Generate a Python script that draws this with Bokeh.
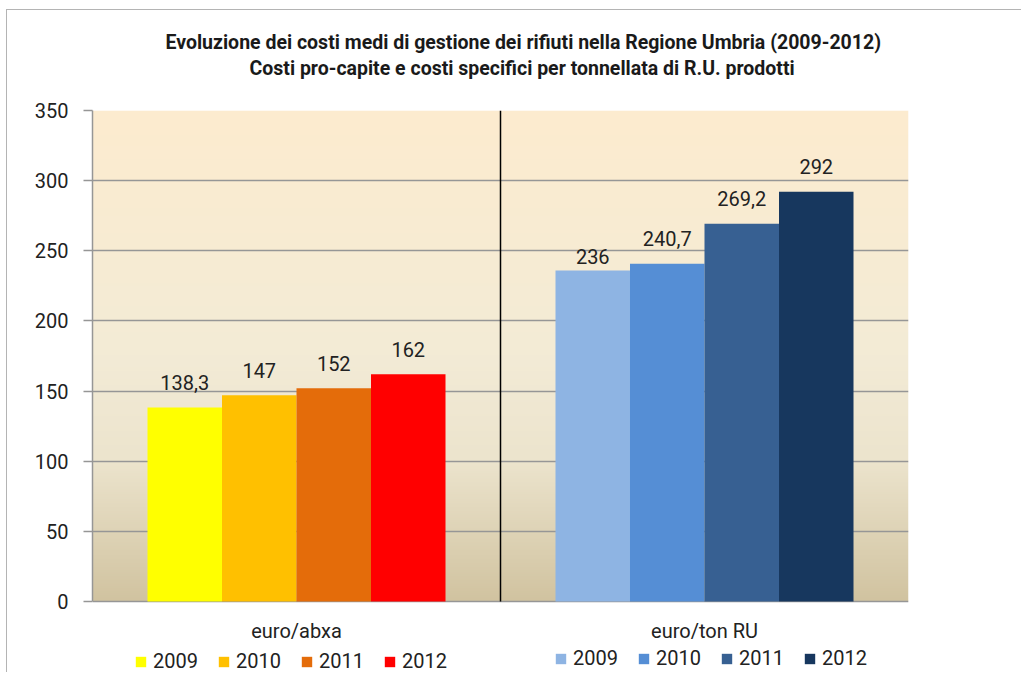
import numpy as np
from bokeh.plotting import figure
from bokeh.models import (FactorRange, Range1d, FixedTicker, Legend, LegendItem,
                          Title, ColumnDataSource)
from bokeh.transform import dodge
from bokeh.core.properties import value
from bokeh.embed import file_html
from bokeh.resources import INLINE

# ---------------- data ----------------
categories = ["euro/abxa", "euro/ton RU"]
years = ["2009", "2010", "2011", "2012"]
pro_capite = [138.3, 147, 152, 162]        # euro/abxa
per_tonnellata = [236, 240.7, 269.2, 292]  # euro/ton RU
y_ticks = [0, 50, 100, 150, 200, 250, 300, 350]

title_line1 = "Evoluzione dei costi medi di gestione dei rifiuti nella Regione Umbria (2009-2012)"
title_line2 = "Costi pro-capite  e costi specifici per tonnellata  di R.U. prodotti"

# ---------------- style / layout ----------------
warm_colors = ["#FFFF00", "#FFC000", "#E46C0A", "#FF0000"]
blue_colors = ["#8EB4E3", "#558ED5", "#376092", "#17375E"]
label_nudge = [[0, 0, 0, 0], [11, 0, 0, 0]]
FONT = value("Roboto")
TXT = "#222222"
GRID = "#969696"
bar_w = 0.1826

FIG_W, FIG_H = 1015, 663
TOP, LEFT, RIGHT = 100, 85, 114
VALUE_PX = 491          # pixel height of the 0..350 value band
frame_h = FIG_H - TOP   # frame reaches the bottom so the legend sits inside it
y_lo = -(frame_h - VALUE_PX) * y_ticks[-1] / VALUE_PX

p = figure(x_range=FactorRange(*categories, range_padding=0, factor_padding=0),
           y_range=Range1d(y_lo, y_ticks[-1]),
           width=FIG_W, height=FIG_H, output_backend="svg", toolbar_location=None,
           title_location=None, x_axis_location=None,
           min_border_left=LEFT, min_border_right=RIGHT, min_border_top=TOP, min_border_bottom=0)
p.outline_line_color = None
p.background_fill_color = "white"
p.border_fill_color = "white"
p.styles = {"border-top": "1px solid #b4b4b4", "border-left": "1px solid #b4b4b4",
            "margin-left": "6px", "margin-top": "9px"}

# gradient plot-area background (only behind the value band)
stops_y = [0, 100, 175, 350]
stops_c = [(209, 195, 160), (236, 228, 205), (243, 235, 214), (253, 236, 207)]
rows = 350
yy = np.arange(rows) + 0.5
img = np.empty((rows, 1), dtype=np.uint32)
view = img.view(dtype=np.uint8).reshape((rows, 1, 4))
for k in range(3):
    view[:, 0, k] = np.interp(yy, stops_y, [c[k] for c in stops_c]).astype(np.uint8)
view[:, 0, 3] = 255
p.image_rgba(image=[img], x=0, y=y_ticks[0], dw=len(categories),
             dh=y_ticks[-1] - y_ticks[0], level="image")

# bars + labels
legend_items = [[], []]
groups = [pro_capite, per_tonnellata]
palettes = [warm_colors, blue_colors]
for gi, cat in enumerate(categories):
    for j, yr in enumerate(years):
        v = groups[gi][j]
        lab = str(v).replace(".", ",")
        src = ColumnDataSource(dict(x=[cat], top=[v], label=[lab],
                                    yoff=[-25 + label_nudge[gi][j]]))
        off = (j - 1.5) * bar_w
        r = p.vbar(x=dodge("x", off, range=p.x_range), top="top", width=bar_w,
                   source=src, fill_color=palettes[gi][j], line_color=None)
        p.text(x=dodge("x", off, range=p.x_range), y="top", text="label", source=src,
               text_align="center", text_baseline="alphabetic", y_offset="yoff",
               text_font=FONT, text_font_size="20px", text_color=TXT)
        legend_items[gi].append(LegendItem(label=yr, renderers=[r]))

# category labels under the value band
p.text(x=categories, y=[y_ticks[0]] * len(categories), text=categories,
       text_align="center", text_baseline="middle", y_offset=29,
       text_font=FONT, text_font_size="20px", text_color=TXT)

# separator between the two groups
p.segment(x0=[1], y0=[y_ticks[0]], x1=[1], y1=[y_ticks[-1]], line_color="black", line_width=1.5)

# grid & y axis
p.xgrid.visible = False
p.ygrid.ticker = FixedTicker(ticks=y_ticks)
p.ygrid.grid_line_color = GRID
p.ygrid.grid_line_width = 1.5

p.yaxis.ticker = FixedTicker(ticks=y_ticks)
p.yaxis.bounds = (y_ticks[0], y_ticks[-1])
p.yaxis.axis_line_color = GRID
p.yaxis.axis_line_width = 1.5
p.yaxis.major_tick_line_color = GRID
p.yaxis.major_tick_line_width = 1.5
p.yaxis.major_tick_out = 9
p.yaxis.major_tick_in = 0
p.yaxis.minor_tick_line_color = None
p.yaxis.major_label_standoff = 15
p.yaxis.major_label_text_font = "Roboto"
p.yaxis.major_label_text_font_size = "20px"
p.yaxis.major_label_text_color = TXT

# titles (spacer closest to the frame, then line 2, then line 1)
spacer = Title(text=" ", text_font_size="1px", standoff=28)
t2 = Title(text=title_line2, align="left", offset=157, standoff=0,
           text_font="Roboto", text_font_size="19.5px", text_font_style="bold", text_color="#1a1a1a")
t1 = Title(text=title_line1, align="left", offset=73, standoff=1,
           text_font="Roboto", text_font_size="19.5px", text_font_style="bold", text_color="#1a1a1a")
p.add_layout(spacer, "above")
p.add_layout(t2, "above")
p.add_layout(t1, "above")

# two legends, one under each group
for gi, loc in enumerate([(42, 0), (462, 3)]):
    leg = Legend(items=legend_items[gi], orientation="horizontal", location=loc,
                 padding=0, margin=0, spacing=19, glyph_width=13, glyph_height=13,
                 label_standoff=6, label_text_font="Roboto", label_text_font_size="20px",
                 label_text_color=TXT, border_line_color=None, background_fill_alpha=0)
    p.add_layout(leg, "center")

open("out.html", "w").write(file_html(p, INLINE))
